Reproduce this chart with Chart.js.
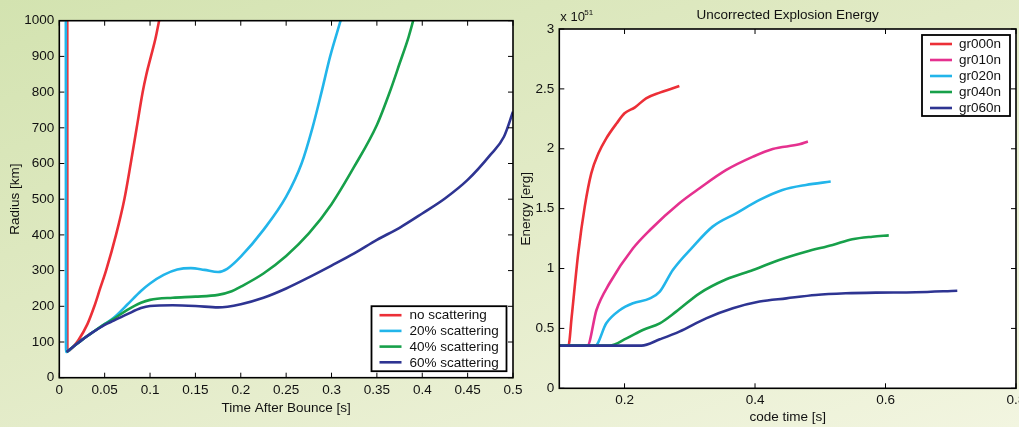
<!DOCTYPE html>
<html>
<head>
<meta charset="utf-8">
<script src="https://cdn.jsdelivr.net/npm/chart.js@4.4.0/dist/chart.umd.min.js"></script>
<style>
  html, body { margin: 0; padding: 0; }
  body {
    width: 1019px; height: 427px; overflow: hidden; position: relative;
    background: linear-gradient(160deg, #d3e3b0 0%, #e1eac5 45%, #f2f5e0 100%);
  }
  #radius { position: absolute; left: 0; top: 0; }
  #energy { position: absolute; left: 518px; top: 0; }
</style>
</head>
<body>
<canvas id="radius" width="530" height="427"></canvas>
<canvas id="energy" width="522" height="427"></canvas>
<script>
// --- left panel: shock radius vs time after bounce ---
const radiusLabels = ['no scattering', '20% scattering', '40% scattering', '60% scattering'];
const radiusColors = ['#ec2f37', '#22b5ea', '#17a04a', '#2e3492'];

const noScatT = [0.0088, 0.0089, 0.015, 0.021, 0.031, 0.0386, 0.045, 0.0515, 0.0625, 0.0717, 0.0787, 0.0853, 0.0919, 0.096, 0.101, 0.106, 0.110];
const noScatR = [1000, 74, 86, 105, 150, 200, 250, 300, 400, 500, 600, 700, 800, 850, 900, 950, 1000];

const scat20T = [0.0072, 0.0074, 0.015, 0.025, 0.035, 0.05, 0.06, 0.075, 0.09, 0.1, 0.115, 0.13, 0.145, 0.16, 0.175, 0.185, 0.2, 0.225, 0.25, 0.267, 0.279, 0.289, 0.2985, 0.31];
const scat20R = [1000, 72, 86, 106, 124, 150, 168, 205, 243, 264, 288, 303, 307, 302, 296, 305, 339, 414, 507, 600, 700, 800, 900, 1000];

const scat40T = [0.008, 0.015, 0.025, 0.035, 0.05, 0.06, 0.075, 0.09, 0.1, 0.125, 0.15, 0.175, 0.19, 0.2, 0.225, 0.25, 0.275, 0.3, 0.325, 0.35, 0.365, 0.375, 0.385, 0.39];
const scat40R = [72, 86, 106, 124, 150, 165, 190, 210, 218, 224, 227, 232, 242, 255, 292, 341, 404, 486, 591, 708, 806, 880, 955, 1000];

const scat60T = [0.008, 0.015, 0.025, 0.035, 0.05, 0.06, 0.075, 0.09, 0.1, 0.125, 0.15, 0.175, 0.2, 0.225, 0.25, 0.275, 0.3, 0.325, 0.35, 0.375, 0.4, 0.425, 0.45, 0.475, 0.49, 0.5];
const scat60R = [72, 86, 106, 124, 148, 160, 178, 195, 201, 203, 201, 197, 206, 224, 250, 281, 314, 348, 386, 420, 460, 502, 554, 624, 675, 745];

const radiusXTicks = [0, 0.05, 0.1, 0.15, 0.2, 0.25, 0.3, 0.35, 0.4, 0.45, 0.5];
const radiusYTicks = [0, 100, 200, 300, 400, 500, 600, 700, 800, 900, 1000];

// --- right panel: explosion energy vs code time ---
const energyLabels = ['gr000n', 'gr010n', 'gr020n', 'gr040n', 'gr060n'];
const energyColors = ['#ec2f37', '#e5318f', '#22b5ea', '#17a04a', '#2e3492'];

const gr000T = [0.1, 0.114, 0.119, 0.129, 0.139, 0.149, 0.16, 0.172, 0.188, 0.2, 0.216, 0.233, 0.254, 0.274, 0.284];
const gr000E = [0.356, 0.356, 0.598, 1.127, 1.517, 1.795, 1.962, 2.087, 2.213, 2.296, 2.346, 2.421, 2.469, 2.505, 2.524];

const gr010T = [0.1, 0.143, 0.157, 0.177, 0.213, 0.239, 0.284, 0.315, 0.356, 0.397, 0.427, 0.468, 0.481];
const gr010E = [0.356, 0.356, 0.654, 0.877, 1.169, 1.322, 1.545, 1.670, 1.823, 1.934, 1.998, 2.037, 2.060];

const gr020T = [0.1, 0.155, 0.172, 0.193, 0.213, 0.239, 0.254, 0.274, 0.305, 0.335, 0.371, 0.407, 0.442, 0.478, 0.516];
const gr020E = [0.356, 0.356, 0.543, 0.654, 0.710, 0.751, 0.807, 0.988, 1.183, 1.350, 1.461, 1.573, 1.656, 1.698, 1.726];

const gr040T = [0.1, 0.177, 0.203, 0.228, 0.254, 0.279, 0.315, 0.356, 0.397, 0.437, 0.478, 0.519, 0.549, 0.58, 0.605];
const gr040E = [0.356, 0.356, 0.417, 0.487, 0.543, 0.640, 0.793, 0.910, 0.988, 1.072, 1.141, 1.197, 1.244, 1.266, 1.277];

const gr060T = [0.1, 0.226, 0.254, 0.284, 0.325, 0.366, 0.407, 0.448, 0.493, 0.539, 0.585, 0.646, 0.71];
const gr060E = [0.356, 0.356, 0.409, 0.473, 0.584, 0.668, 0.724, 0.751, 0.779, 0.793, 0.799, 0.802, 0.815];

const energyXTicks = [0.2, 0.4, 0.6, 0.8];
const energyYTicks = [0, 0.5, 1, 1.5, 2, 2.5, 3];

const FONT = '"Liberation Sans", Arial, Helvetica, sans-serif';
const FSIZE = 13.5;

function pts(xs, ys) {
  return xs.map((x, i) => ({ x, y: ys[i] }));
}

function series(labels, colors, pairs) {
  return pairs.map(([xs, ys], i) => ({
    label: labels[i],
    data: pts(xs, ys),
    borderColor: colors[i],
    backgroundColor: 'transparent',
    borderWidth: 2.6,
    pointRadius: 0,
    cubicInterpolationMode: 'monotone',
    order: pairs.length - i, // later series drawn on top, like matlab
  }));
}

// white axes box, inward ticks on all four sides, boxed legend, exponent label
const matlabAxes = {
  id: 'matlabAxes',
  beforeDraw(chart) {
    const { ctx, chartArea: a } = chart;
    ctx.save();
    ctx.fillStyle = '#fff';
    ctx.fillRect(a.left, a.top, a.right - a.left, a.bottom - a.top);
    ctx.restore();
  },
  afterDraw(chart, args, opts) {
    const { ctx, chartArea: a, scales } = chart;
    ctx.save();
    ctx.strokeStyle = '#000';
    ctx.lineWidth = 1;
    ctx.beginPath();
    scales.x.ticks.forEach(t => {
      const p = scales.x.getPixelForValue(t.value);
      ctx.moveTo(p, a.bottom); ctx.lineTo(p, a.bottom - 5);
      ctx.moveTo(p, a.top); ctx.lineTo(p, a.top + 5);
    });
    scales.y.ticks.forEach(t => {
      const p = scales.y.getPixelForValue(t.value);
      ctx.moveTo(a.left, p); ctx.lineTo(a.left + 5, p);
      ctx.moveTo(a.right, p); ctx.lineTo(a.right - 5, p);
    });
    ctx.stroke();
    ctx.lineWidth = 1.6;
    ctx.strokeRect(a.left, a.top, a.right - a.left, a.bottom - a.top);

    const lg = opts.legend;
    if (lg) {
      const bx = a.right - lg.gap - lg.width;
      const by = lg.bottom ? a.bottom - lg.gap - lg.height : a.top + lg.gap;
      ctx.fillStyle = '#fff';
      ctx.fillRect(bx, by, lg.width, lg.height);
      ctx.lineWidth = 1.8;
      ctx.strokeRect(bx, by, lg.width, lg.height);
      ctx.font = '13.5px ' + FONT;
      ctx.textBaseline = 'middle';
      ctx.textAlign = 'left';
      chart.data.datasets.forEach((ds, i) => {
        const y = by + lg.first + i * lg.step;
        ctx.strokeStyle = ds.borderColor;
        ctx.lineWidth = 2.6;
        ctx.beginPath();
        ctx.moveTo(bx + 8, y); ctx.lineTo(bx + 30, y);
        ctx.stroke();
        ctx.fillStyle = '#111';
        ctx.fillText(ds.label, bx + lg.textX, y + 0.5);
      });
    }

    if (opts.exponent) {
      ctx.fillStyle = '#111';
      ctx.textBaseline = 'alphabetic';
      ctx.textAlign = 'left';
      ctx.font = '13px ' + FONT;
      ctx.fillText('x 10', a.left + 1, 21);
      ctx.font = '8px ' + FONT;
      ctx.fillText(opts.exponent, a.left + 25, 15);
    }
    ctx.restore();
  }
};

function axis(min, max, tickList, title, fitSize, horizontal, labelPad, titlePad) {
  return {
    type: 'linear',
    min, max,
    afterBuildTicks: s => { s.ticks = tickList.map(v => ({ value: v })); },
    afterFit: s => { if (horizontal) s.height = fitSize; else s.width = fitSize; },
    grid: { display: false, drawTicks: false },
    border: { display: false },
    ticks: {
      color: '#111',
      font: { family: FONT, size: FSIZE },
      padding: labelPad,
      maxRotation: 0,
      autoSkip: false,
      callback: v => String(v),
    },
    title: {
      display: true,
      text: title,
      color: '#111',
      font: { family: FONT, size: FSIZE },
      padding: titlePad,
    },
  };
}

new Chart(document.getElementById('radius'), {
  type: 'line',
  data: {
    datasets: series(radiusLabels, radiusColors, [
      [noScatT, noScatR], [scat20T, scat20R], [scat40T, scat40R], [scat60T, scat60R],
    ]),
  },
  options: {
    responsive: false,
    animation: false,
    devicePixelRatio: 1,
    layout: { padding: { top: 20.7, right: 17, left: 0, bottom: 0 } },
    plugins: {
      legend: { display: false },
      tooltip: { enabled: false },
      matlabAxes: {
        legend: { bottom: true, gap: 6.5, width: 135, height: 65, first: 9, step: 15.7, textX: 38 },
      },
    },
    scales: {
      x: axis(0, 0.5, radiusXTicks, 'Time After Bounce [s]', 49.3, true, 4.5, { top: 0, bottom: 10.5 }),
      y: axis(0, 1000, radiusYTicks, 'Radius [km]', 59.3, false, 5, { top: 7, bottom: 0 }),
    },
  },
  plugins: [matlabAxes],
});

new Chart(document.getElementById('energy'), {
  type: 'line',
  data: {
    datasets: series(energyLabels, energyColors, [
      [gr000T, gr000E], [gr010T, gr010E], [gr020T, gr020E], [gr040T, gr040E], [gr060T, gr060E],
    ]),
  },
  options: {
    responsive: false,
    animation: false,
    devicePixelRatio: 1,
    layout: { padding: { top: 0, right: 24, left: 0, bottom: 0 } },
    plugins: {
      legend: { display: false },
      tooltip: { enabled: false },
      title: {
        display: true,
        fullSize: false,
        text: 'Uncorrected Explosion Energy',
        color: '#111',
        font: { family: FONT, size: FSIZE, weight: 'normal' },
        padding: { top: 7.5, bottom: 5.3 },
      },
      matlabAxes: {
        legend: { bottom: false, gap: 6, width: 88, height: 81, first: 9, step: 16, textX: 37 },
        exponent: '51',
      },
    },
    scales: {
      x: axis(0.1, 0.8, energyXTicks, 'code time [s]', 38.7, true, 4, { top: 0, bottom: 1.5 }),
      y: axis(0, 3, energyYTicks, 'Energy [erg]', 41.3, false, 5, { top: 0.5, bottom: 0 }),
    },
  },
  plugins: [matlabAxes],
});
</script>
</body>
</html>
